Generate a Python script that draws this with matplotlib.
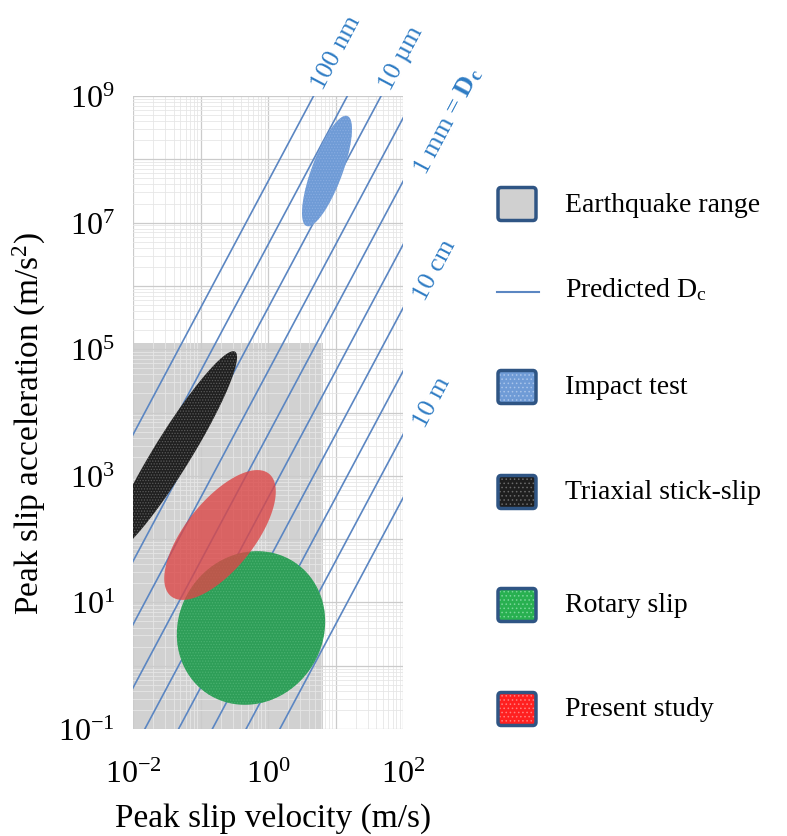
import numpy as np
import matplotlib
matplotlib.use("Agg")
import matplotlib.pyplot as plt
from matplotlib.ticker import LogLocator, FuncFormatter, NullFormatter
from matplotlib.patches import FancyBboxPatch, Rectangle
from matplotlib.lines import Line2D

plt.rcParams['font.family'] = ['Liberation Serif', 'DejaVu Serif']
plt.rcParams['mathtext.fontset'] = 'custom'
plt.rcParams['mathtext.rm'] = 'Liberation Serif'
plt.rcParams['mathtext.it'] = 'Liberation Serif:italic'
plt.rcParams['mathtext.bf'] = 'Liberation Serif:bold'
plt.rcParams['hatch.linewidth'] = 0.6

# ---- data ----
x_lim = [1e-2, 1e2]          # peak slip velocity (m/s)
y_lim = [1e-1, 1e9]          # peak slip acceleration (m/s^2)

# earthquake range box (v_min, v_max, a_min, a_max)
eq_v = [1e-2, 6.5]
eq_a = [1e-1, 1.25e5]

# predicted Dc lines (m), a = v^2 / (k * Dc)
dc_values = [1e-7, 1e-6, 1e-5, 1e-4, 1e-3, 1e-2, 1e-1, 1e0, 1e1, 1e2]
dc_factor = 0.224
dc_labels = {1e-7: '100 nm', 1e-5: '10 µm', 1e-3: r'1 mm = $\mathbf{D_c}$',
             1e-1: '10 cm', 1e1: '10 m'}

# data regions as ellipses in log10 space: centre log v, centre log a,
# semi-major, semi-minor (decades), angle (deg)
impact_ell = [0.874, 7.815, 0.92, 0.23, 71.0]
triax_ell = [-1.415, 3.36, 1.85, 0.28, 60.0]
rotary_ell = [-0.252, 0.596, 1.23, 1.08, 70.0]
present_ell = [-0.711, 2.065, 1.21, 0.52, 54.0]

legend_labels = ['Earthquake range', r'Predicted D$_\mathregular{c}$', 'Impact test',
                 'Triaxial stick-slip', 'Rotary slip', 'Present study']

line_color = '#5b86c2'
text_blue = '#2f7cc4'


def ellipse_points(p, n=300):
    cx, cy, a, b, ang = p
    t = np.linspace(0, 2 * np.pi, n)
    phi = np.deg2rad(ang)
    lx = cx + a * np.cos(t) * np.cos(phi) - b * np.sin(t) * np.sin(phi)
    ly = cy + a * np.cos(t) * np.sin(phi) + b * np.sin(t) * np.cos(phi)
    return 10 ** lx, 10 ** ly


W, H = 787, 837
fig = plt.figure(figsize=(W / 100, H / 100), dpi=100)
ax = fig.add_axes([133 / W, 1 - 730 / H, 270 / W, 633 / H])
ax.set_xscale('log')
ax.set_yscale('log')
ax.set_xlim(x_lim)
ax.set_ylim(y_lim)

# grid
ax.set_axisbelow(True)
ax.xaxis.set_major_locator(LogLocator(base=10, numticks=20))
ax.yaxis.set_major_locator(LogLocator(base=10, numticks=20))
ax.xaxis.set_minor_locator(LogLocator(base=10, subs=np.arange(2, 10), numticks=50))
ax.yaxis.set_minor_locator(LogLocator(base=10, subs=np.arange(2, 10), numticks=50))
ax.grid(True, which='major', color='#cbcbcb', linewidth=0.9)
ax.grid(True, which='minor', color='#e6e6e6', linewidth=0.6)


def fmt_x(v, pos):
    e = int(round(np.log10(v)))
    return r'$\mathregular{10^{%d}}$' % e if e % 2 == 0 else ''


def fmt_y(v, pos):
    e = int(round(np.log10(v)))
    return r'$\mathregular{10^{%d}}$' % e if e % 2 != 0 else ''


ax.xaxis.set_major_formatter(FuncFormatter(fmt_x))
ax.yaxis.set_major_formatter(FuncFormatter(fmt_y))
ax.xaxis.set_minor_formatter(NullFormatter())
ax.yaxis.set_minor_formatter(NullFormatter())
ax.tick_params(which='both', length=0, labelsize=23)
ax.tick_params(axis='x', pad=22)
ax.tick_params(axis='y', pad=13)
for s in ax.spines.values():
    s.set_visible(False)

# earthquake range
ax.add_patch(Rectangle((eq_v[0], eq_a[0]), eq_v[1] - eq_v[0], eq_a[1] - eq_a[0],
                       facecolor='#9a9a9a', alpha=0.45, edgecolor='none', zorder=0.3))

# predicted Dc lines
v = np.logspace(-3, 3, 200)
for d in dc_values:
    ax.plot(v, v ** 2 / (dc_factor * d), color=line_color, lw=1.2, zorder=2)
    if d in dc_labels:
        v_top = np.sqrt(y_lim[1] * dc_factor * d)
        if v_top <= x_lim[1]:
            pt, off = (v_top, y_lim[1]), (3, 6)
        else:
            pt, off = (x_lim[1], x_lim[1] ** 2 / (dc_factor * d)), (12, 7)
        ax.annotate(dc_labels[d], xy=pt, xytext=off, textcoords='offset points',
                    rotation=62, rotation_mode='anchor', ha='left', va='center',
                    fontsize=19, color=text_blue, annotation_clip=False)

# regions
gx, gy = ellipse_points(rotary_ell)
ax.fill(gx, gy, facecolor='#2e9e58', edgecolor='#49b06f', hatch='......', lw=0, zorder=3)
bx, by = ellipse_points(triax_ell)
ax.fill(bx, by, facecolor='#202020', edgecolor='#5a5a5a', hatch='......', lw=0, zorder=3)
ix, iy = ellipse_points(impact_ell)
ax.fill(ix, iy, facecolor='#6f9bd6', edgecolor='#86abe0', hatch='......', lw=0, zorder=3)
rx, ry = ellipse_points(present_ell)
ax.fill(rx, ry, facecolor='#dc4848', alpha=0.8, lw=0, zorder=4)

ax.set_xlabel('Peak slip velocity (m/s)', fontsize=24)
ax.xaxis.set_label_coords(0.52, -0.115)
ax.set_ylabel(r'Peak slip acceleration (m/s$^\mathregular{2}$)', fontsize=24)
ax.yaxis.set_label_coords(-0.315, 0.485)

# legend (drawn by hand on the figure)
leg_rows = [205, 290, 388, 493, 606, 710]
leg_face = ['#d0d0d0', None, '#6f9bd6', '#1e1e1e', '#28b050', '#ff2020']
leg_hatch = ['', None, '....', '....', '....', '....']
leg_hcol = ['#2f5584', None, '#a9c4ea', '#6a6a6a', '#7ad69a', '#ff8080']
bw, bh = 38, 33
for lab, yc, fc, hz, hc in zip(legend_labels, leg_rows, leg_face, leg_hatch, leg_hcol):
    if fc is None:
        fig.add_artist(Line2D([497 / W, 539 / W], [1 - (yc + 3) / H, 1 - (yc + 3) / H],
                              color=line_color, lw=1.5))
    else:
        box = FancyBboxPatch((498 / W, 1 - (yc + bh / 2) / H), bw / W, bh / H,
                             boxstyle='round,pad=0,rounding_size=0.004',
                             transform=fig.transFigure, facecolor=fc, edgecolor=hc,
                             hatch=hz, lw=0)
        fig.add_artist(box)
        frame = FancyBboxPatch((498 / W, 1 - (yc + bh / 2) / H), bw / W, bh / H,
                               boxstyle='round,pad=0,rounding_size=0.004',
                               transform=fig.transFigure, facecolor='none',
                               edgecolor='#2f5584', lw=2.5)
        fig.add_artist(frame)
    fig.text(565 / W, 1 - yc / H, lab, fontsize=20, ha='left', va='center')

fig.savefig('out.png', dpi=100)
